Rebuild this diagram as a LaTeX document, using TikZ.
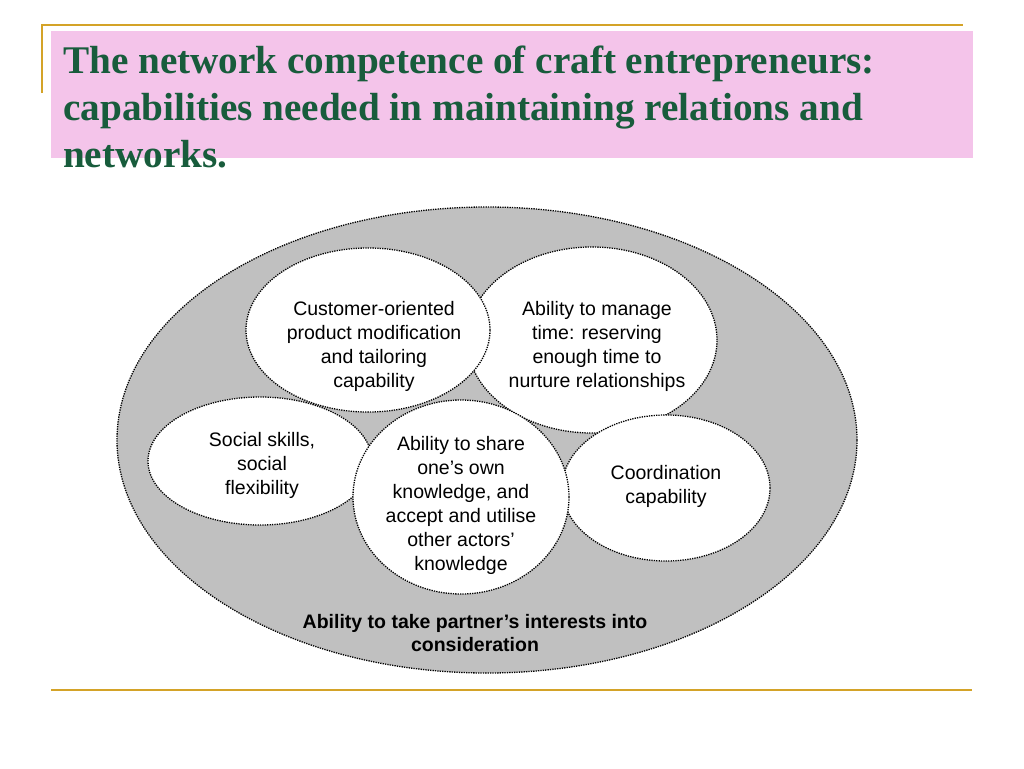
\documentclass[tikz,border=0pt]{standalone}
\usepackage{fontspec}
\setmainfont{Liberation Sans}
\newfontfamily\titlefont{Liberation Serif}
\usetikzlibrary{shapes.geometric}
\definecolor{gold}{RGB}{212,163,40}
\definecolor{pinkbg}{RGB}{244,196,234}
\definecolor{titlegreen}{RGB}{24,92,60}
\definecolor{ringgray}{RGB}{192,192,192}
\tikzset{
  bubble/.style={ellipse, draw=black, fill=white, line width=1.3pt,
    dash pattern=on 1.3pt off 1.1pt, inner sep=0pt},
  bigring/.style={ellipse, draw=black, fill=ringgray, line width=1.3pt,
    dash pattern=on 1.3pt off 1.1pt, inner sep=0pt},
  bubbletext/.style={align=center, font=\fontsize{19.5}{24}\selectfont, inner sep=0pt},
  goldline/.style={draw=gold, line width=2.2pt}
}
\begin{document}
\begin{tikzpicture}[x=1pt,y=-1pt]
\useasboundingbox (0,0) rectangle (1024,768);
% frame lines
\coordinate (tl) at (42,25);
\coordinate (tr) at (963,25);
\coordinate (tv) at (42,93);
\coordinate (bl) at (51,690);
\coordinate (br) at (972,690);
\draw[goldline] (tv) -- (tl) -- (tr);
\draw[goldline] (bl) -- (br);
% title
\node[fill=pinkbg, minimum width=922pt, minimum height=127pt, inner sep=0pt, anchor=north west] (titlebox) at (51,31) {};
\node[anchor=base west, align=left, inner sep=0pt, text=titlegreen,
  font=\titlefont\bfseries\fontsize{39.2}{47}\selectfont] (title) at (63,167)
  {The network competence of craft entrepreneurs:\\capabilities needed in maintaining relations and\\networks.};
% big ring
\node[bigring, minimum width=740pt, minimum height=466pt] (ring) at (487,440) {};
% bubbles
\node[bubble, minimum width=250pt, minimum height=186pt] (manage) at (592,340) {};
\node[bubble, minimum width=244pt, minimum height=164pt] (cust) at (368,330) {};
\node[bubble, minimum width=224pt, minimum height=128pt] (social) at (260,461) {};
\node[bubble, minimum width=208pt, minimum height=146pt] (coord) at (666,488) {};
\node[bubble, minimum width=216pt, minimum height=194pt] (share) at (461,497) {};
% texts
\node[bubbletext] (custt) at (374,346) {Customer-oriented\\product modification\\and tailoring\\capability};
\node[bubbletext] (managet) at (597,346) {Ability to manage\\time: reserving\\enough time to\\nurture relationships};
\node[bubbletext] (socialt) at (262,465) {Social skills,\\social\\flexibility};
\node[bubbletext] (sharet) at (461,505) {Ability to share\\one’s own\\knowledge, and\\accept and utilise\\other actors’\\knowledge};
\node[bubbletext] (coordt) at (666,486) {Coordination\\capability};
\node[bubbletext, font=\bfseries\fontsize{19.5}{23}\selectfont] (ringt) at (475,633) {Ability to take partner’s interests into\\consideration};
\end{tikzpicture}
\end{document}
